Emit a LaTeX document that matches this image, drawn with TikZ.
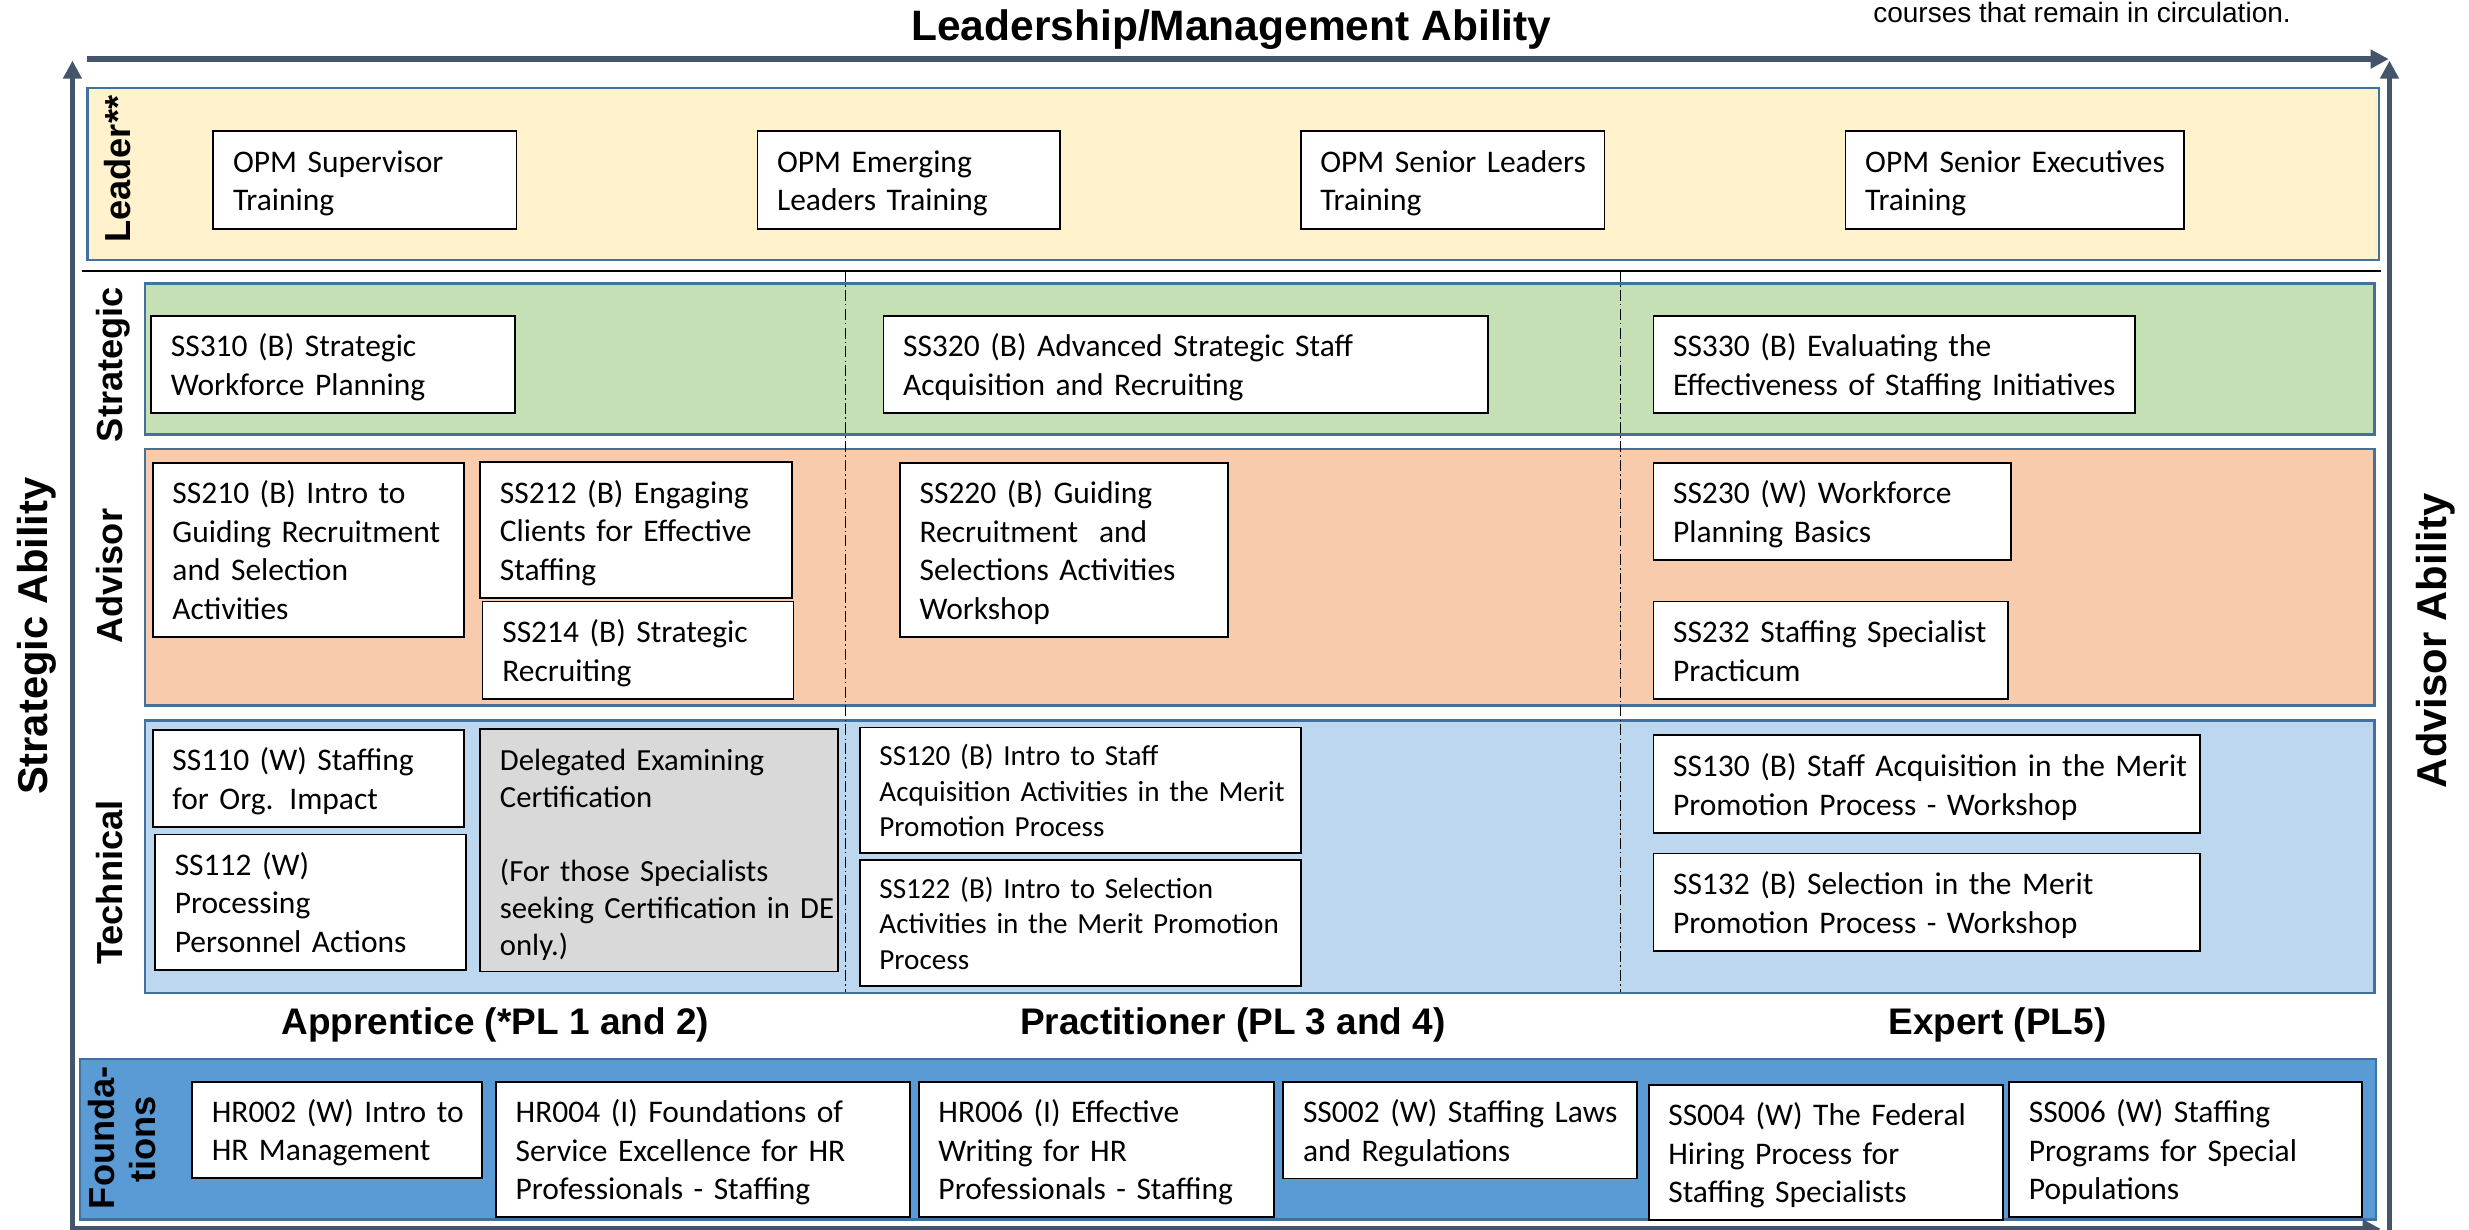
\documentclass[tikz,border=0pt]{standalone}
\usepackage{fontspec}
\setmainfont{Carlito}
\newfontfamily\lblfont{Liberation Sans}
\usetikzlibrary{arrows.meta}
\definecolor{axisc}{HTML}{44546A}
\definecolor{bandline}{HTML}{41719C}
\definecolor{leaderfill}{HTML}{FFF2CC}
\definecolor{stratfill}{HTML}{C5E0B4}
\definecolor{advfill}{HTML}{F8CBAD}
\definecolor{techfill}{HTML}{BDD7EE}
\definecolor{foundfill}{HTML}{5B9BD5}
\definecolor{degray}{HTML}{D9D9D9}
\newcommand{\mlines}[1]{\begin{tabular}{@{}l@{}}#1\end{tabular}}
% [box style]{x1}{y1}{x2}{y2}{name}{text}[text shift]
\newcommand{\coursebox}[7][]{%
  \pgfmathsetmacro{\cbw}{#4-#2}%
  \pgfmathsetmacro{\cbh}{#5-#3}%
  \pgfmathsetmacro{\cbt}{#4-#2-25}%
  \node[crsbox,#1,minimum width=\cbw pt,minimum height=\cbh pt] (#6) at ({(#2+#4)/2},{(#3+#5)/2}) {};
  \node[crstext,#1,text width=\cbt pt] (#6-text) at ([yshift=-\txtdrop]#6.center) {\mlines{#7}};}
\newcommand{\txtdrop}{2.5pt}
\tikzset{
  axisarrow/.style={draw=axisc, line width=3.6pt, -{Triangle[length=11.5pt,width=11.5pt]}},
  bandrect/.style={draw=bandline, line width=1.5pt},
  crsbox/.style={draw=black, line width=1.1pt, fill=white, inner sep=0pt},
  crstext/.style={draw=none, fill=none, inner sep=0pt, align=left, font=\fontsize{20}{24.5}\selectfont},
  smallcrs/.style={font=\fontsize{18.5}{22.5}\selectfont},
  decrs/.style={fill=degray, font=\fontsize{19.5}{23.5}\selectfont},
  bandlbl/.style={rotate=90, anchor=base, inner sep=0pt, font=\lblfont\bfseries\fontsize{23}{26}\selectfont},
  axislbl/.style={rotate=90, anchor=base, inner sep=0pt, font=\lblfont\bfseries\fontsize{26.5}{30}\selectfont},
  levellbl/.style={anchor=base, inner sep=0pt, font=\lblfont\bfseries\fontsize{23.5}{27}\selectfont},
  dashdot/.style={draw=black, line width=0.8pt, dash pattern=on 7pt off 2pt on 1pt off 2pt},
}
\begin{document}
\begin{tikzpicture}[x=1pt,y=-1pt]
\useasboundingbox (0,0) rectangle (1568,781);
% bands
\draw[bandrect, fill=leaderfill] (55.5,56) rectangle (1511,165);
\draw[bandrect, fill=stratfill] (92,180) rectangle (1508,276);
\draw[bandrect, fill=advfill] (92,285) rectangle (1508,448);
\draw[bandrect, fill=techfill] (92,457.5) rectangle (1508,630.5);
\draw[bandrect, fill=foundfill] (51,672.5) rectangle (1509,774.5);
\draw[line width=1.5pt] (52,172) -- (1512,172);
% column separators
\draw[dashdot] (537,172) -- (537,630);
\draw[dashdot] (1029,172) -- (1029,630);
% axes
\coordinate (lb) at (46,790);
\coordinate (lt) at (46,38.5);
\coordinate (rb) at (1517.5,790);
\coordinate (rt) at (1517.5,38.5);
\coordinate (tl) at (55,37.5);
\coordinate (tr) at (1517,37.5);
\coordinate (bl) at (46,780.5);
\coordinate (br) at (1512,780.5);
\draw[axisarrow] (lb) -- (lt);
\draw[axisarrow] (rb) -- (rt);
\draw[axisarrow] (tl) -- (tr);
\draw[axisarrow] (bl) -- (br);
% titles
\node[anchor=base, inner sep=0pt, font=\lblfont\bfseries\fontsize{27}{31}\selectfont] (title) at (782,26) {Leadership/Management Ability};
\node[anchor=base east, inner sep=0pt, font=\lblfont\fontsize{17.8}{21}\selectfont] (note) at (1455,14) {courses that remain in circulation.};
\node[axislbl] (strab) at (30,404) {Strategic Ability};
\node[axislbl] (advab) at (1554,407) {Advisor Ability};
% band labels
\node[bandlbl] (lleader) at (83,107.5) {Leader**};
\node[bandlbl] (lstrat) at (78,231.5) {Strategic};
\node[bandlbl] (ladv) at (78,366) {Advisor};
\node[bandlbl] (ltech) at (78,560.5) {Technical};
\node[bandlbl] (lfound1) at (73,722.5) {Founda-};
\node[bandlbl] (lfound2) at (99,723.5) {tions};
% level labels
\node[levellbl] (lapp) at (314.5,657) {Apprentice (*PL 1 and 2)};
\node[levellbl] (lprac) at (783,657) {Practitioner (PL 3 and 4)};
\node[levellbl] (lexp) at (1268.5,657) {Expert (PL5)};
% leader boxes
\coursebox{135.5}{83}{328}{145.5}{opm1}{OPM Supervisor\\Training}
\coursebox{481}{83}{673}{145.5}{opm2}{OPM Emerging\\Leaders Training}
\coursebox{826}{83}{1019}{145.5}{opm3}{OPM Senior Leaders\\Training}
\coursebox{1172}{83}{1387}{145.5}{opm4}{OPM Senior Executives\\Training}
% strategic
\coursebox{96}{200.5}{327}{262.5}{ss310}{SS310 (B) Strategic\\Workforce Planning}
\coursebox{561}{200.5}{945}{262.5}{ss320}{SS320 (B) Advanced Strategic Staff\\Acquisition and Recruiting}
\coursebox{1050}{200.5}{1356}{262.5}{ss330}{SS330 (B) Evaluating the\\Effectiveness of Staffing Initiatives}
% advisor
\coursebox{97}{294}{294.5}{404.5}{ss210}{SS210 (B) Intro to\\Guiding Recruitment\\and Selection\\Activities}
\coursebox{305}{293.5}{503}{380}{ss212}{SS212 (B) Engaging\\Clients for Effective\\Staffing}
\coursebox{306.5}{382}{504}{444}{ss214}{SS214 (B) Strategic\\Recruiting}
\coursebox{571.5}{294}{780}{404.5}{ss220}{SS220 (B) Guiding\\Recruitment\ \ and\\Selections Activities\\Workshop}
\coursebox{1050}{294}{1277}{355.5}{ss230}{SS230 (W) Workforce\\Planning Basics}
\coursebox{1050}{382}{1275}{444}{ss232}{SS232 Staffing Specialist\\Practicum}
% technical
\coursebox{97}{463.5}{294.5}{525}{ss110}{SS110 (W) Staffing\\for Org. Impact}
\coursebox{98.5}{530}{296}{616}{ss112}{SS112 (W)\\Processing\\Personnel Actions}
\renewcommand{\txtdrop}{3.5pt}
\coursebox[decrs]{305}{463}{532}{617}{decert}{Delegated Examining\\Certification\\ \\(For those Specialists\\seeking Certification in DE\\only.)}
\renewcommand{\txtdrop}{2.5pt}
\coursebox[smallcrs]{546}{462}{826}{541.5}{ss120}{SS120 (B) Intro to Staff\\Acquisition Activities in the Merit\\Promotion Process}
\coursebox[smallcrs]{546}{546}{826}{626}{ss122}{SS122 (B) Intro to Selection\\Activities in the Merit Promotion\\Process}
\coursebox{1050}{467}{1397}{529}{ss130}{SS130 (B) Staff Acquisition in the Merit\\Promotion Process - Workshop}
\coursebox{1050}{542}{1397}{604}{ss132}{SS132 (B) Selection in the Merit\\Promotion Process - Workshop}
% foundations
\coursebox{122}{687}{306}{748}{hr002}{HR002 (W) Intro to\\HR Management}
\coursebox{315}{687}{578}{773}{hr004}{HR004 (I) Foundations of\\Service Excellence for HR\\Professionals - Staffing}
\coursebox{583.5}{687}{809}{773}{hr006}{HR006 (I) Effective\\Writing for HR\\Professionals - Staffing}
\coursebox{815}{687}{1039.5}{748.5}{ss002}{SS002 (W) Staffing Laws\\and Regulations}
\coursebox{1047}{689}{1272}{775}{ss004}{SS004 (W) The Federal\\Hiring Process for\\Staffing Specialists}
\coursebox{1276}{687}{1500}{773}{ss006}{SS006 (W) Staffing\\Programs for Special\\Populations}
\end{tikzpicture}
\end{document}
